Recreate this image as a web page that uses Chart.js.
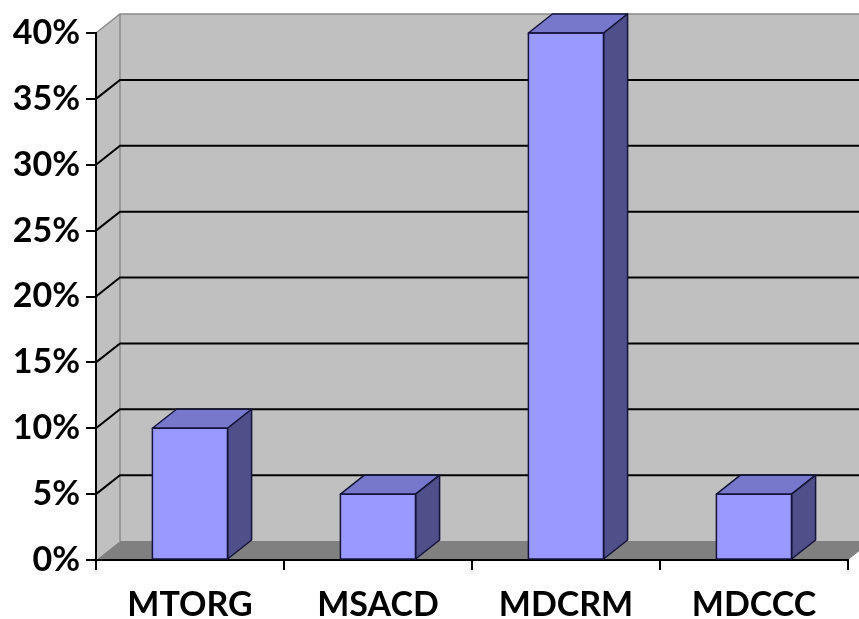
<!DOCTYPE html>
<html>
<head>
<meta charset="utf-8">
<script src="https://cdn.jsdelivr.net/npm/chart.js@4/dist/chart.umd.min.js"></script>
<style>
  html, body { margin: 0; padding: 0; background: #fff; }
  #wrap { width: 859px; height: 619px; }
</style>
</head>
<body>
<div id="wrap"><canvas id="c" width="859" height="619"></canvas></div>
<script>
// Share of each program
const categories = ['MTORG', 'MSACD', 'MDCRM', 'MDCCC'];
const shares = [0.10, 0.05, 0.40, 0.05];
const yMax = 0.40;
const yStep = 0.05;

// depth of the 3D box (offset of the back plane)
const DX = 24, DY = -19;

const colors = {
  wall: '#c0c0c0',
  wallEdge: '#8a8a8a',
  floor: '#808080',
  grid: '#000000',
  front: '#9999ff',
  top: '#7777cc',
  side: '#4f4f8a',
  outline: '#14143a'
};

const box3d = {
  id: 'box3d',
  beforeDraw(chart) {
    const { ctx, chartArea: a, scales: { y } } = chart;
    ctx.save();
    ctx.fillStyle = '#ffffff';
    ctx.fillRect(0, 0, chart.width, chart.height);

    const top = a.top, bot = a.bottom, L = a.left, R = a.right;
    // back wall
    ctx.fillStyle = colors.wall;
    ctx.fillRect(L + DX, top + DY, (R - L), bot - top);
    // side wall
    ctx.beginPath();
    ctx.moveTo(L, top); ctx.lineTo(L + DX, top + DY);
    ctx.lineTo(L + DX, bot + DY); ctx.lineTo(L, bot);
    ctx.closePath(); ctx.fill();
    // floor
    ctx.fillStyle = colors.floor;
    ctx.beginPath();
    ctx.moveTo(L, bot); ctx.lineTo(R, bot);
    ctx.lineTo(R + DX, bot + DY); ctx.lineTo(L + DX, bot + DY);
    ctx.closePath(); ctx.fill();

    // wall edges
    ctx.strokeStyle = colors.wallEdge;
    ctx.lineWidth = 1.5;
    ctx.beginPath();
    ctx.moveTo(L, top); ctx.lineTo(L + DX, top + DY);
    ctx.lineTo(R + DX, top + DY);
    ctx.moveTo(L + DX, top + DY); ctx.lineTo(L + DX, bot + DY);
    ctx.stroke();

    // gridlines running over side wall and back wall
    ctx.strokeStyle = colors.grid;
    ctx.lineWidth = 2;
    for (let v = yStep; v < yMax - 1e-9; v += yStep) {
      const py = y.getPixelForValue(v);
      ctx.beginPath();
      ctx.moveTo(L, py);
      ctx.lineTo(L + DX, py + DY);
      ctx.lineTo(R + DX, py + DY);
      ctx.stroke();
    }
    ctx.restore();
  },
  afterDatasetsDraw(chart) {
    const { ctx } = chart;
    const meta = chart.getDatasetMeta(0);
    ctx.save();
    ctx.lineWidth = 1.5;
    ctx.strokeStyle = colors.outline;
    ctx.lineJoin = 'round';
    meta.data.forEach(bar => {
      const { x, y, base, width } = bar.getProps(['x', 'y', 'base', 'width'], true);
      const l = x - width / 2, r = x + width / 2;
      // top face
      ctx.fillStyle = colors.top;
      ctx.beginPath();
      ctx.moveTo(l, y); ctx.lineTo(l + DX, y + DY);
      ctx.lineTo(r + DX, y + DY); ctx.lineTo(r, y);
      ctx.closePath(); ctx.fill(); ctx.stroke();
      // side face
      ctx.fillStyle = colors.side;
      ctx.beginPath();
      ctx.moveTo(r, y); ctx.lineTo(r + DX, y + DY);
      ctx.lineTo(r + DX, base + DY); ctx.lineTo(r, base);
      ctx.closePath(); ctx.fill(); ctx.stroke();
      // front face outline
      ctx.strokeRect(l, y, width, base - y);
    });
    ctx.restore();
  }
};

const font = { family: 'Lato, "Open Sans", sans-serif', size: 34, weight: 'bold' };

new Chart(document.getElementById('c'), {
  type: 'bar',
  data: {
    labels: categories,
    datasets: [{
      data: shares,
      backgroundColor: colors.front,
      borderWidth: 0,
      barPercentage: 0.4,
      categoryPercentage: 1.0
    }]
  },
  options: {
    responsive: false,
    animation: false,
    layout: { padding: { top: 33, right: 11, left: 0, bottom: 0 } },
    plugins: { legend: { display: false }, tooltip: { enabled: false } },
    scales: {
      x: {
        grid: { display: true, drawOnChartArea: false, offset: true, tickLength: 10, color: '#000', lineWidth: 2 },
        border: { display: true, color: '#000', width: 2 },
        ticks: { color: '#000', font, padding: 15, maxRotation: 0 },
        afterFit(s) { s.height = 59; }
      },
      y: {
        min: 0, max: yMax,
        grid: { display: true, drawOnChartArea: false, tickLength: 10, color: '#000', lineWidth: 2 },
        border: { display: true, color: '#000', width: 2 },
        ticks: {
          stepSize: yStep, color: '#000', font, padding: 6,
          callback: v => Math.round(v * 100) + '%'
        },
        afterFit(s) { s.width = 96; }
      }
    }
  },
  plugins: [box3d]
});
</script>
</body>
</html>
